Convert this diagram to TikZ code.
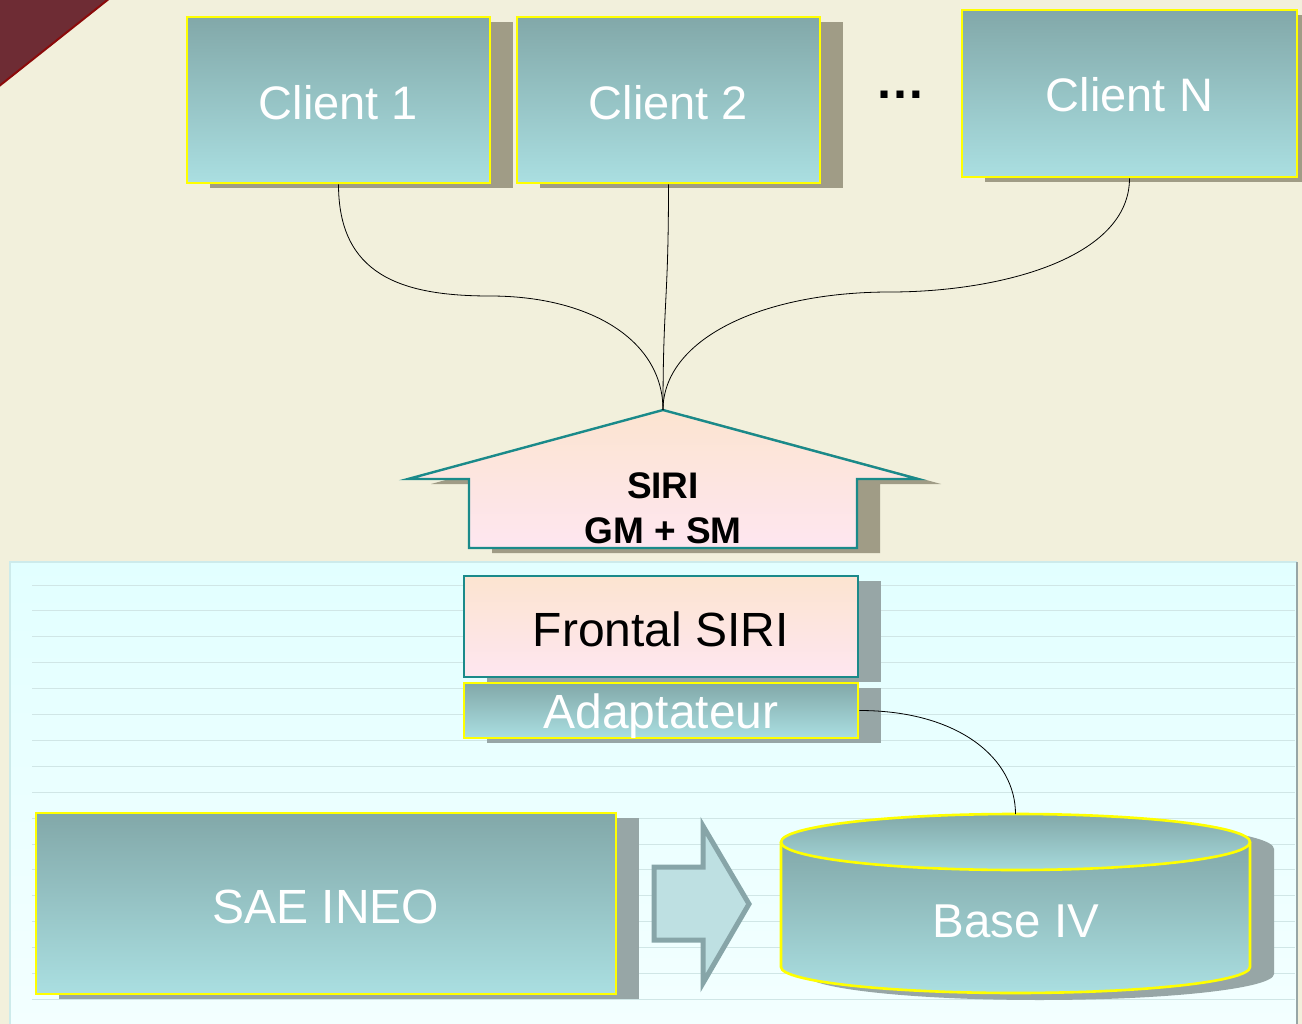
\documentclass[tikz,border=0pt]{standalone}
\usepackage{fontspec}
\setmainfont{Liberation Sans}
\usetikzlibrary{shadows}
\definecolor{cream}{HTML}{F2F0DC}
\definecolor{redfill}{HTML}{6E2C34}
\definecolor{rededge}{HTML}{8B0A0A}
\definecolor{paneltop}{HTML}{E2FFFF}
\definecolor{panelbot}{HTML}{F3FFFF}
\definecolor{panelline}{HTML}{D0E6E6}
\definecolor{paneledge}{HTML}{CDEBEB}
\definecolor{tealtop}{HTML}{82A8A9}
\definecolor{tealbot}{HTML}{AADFE1}
\definecolor{boxyellow}{HTML}{FFFF00}
\definecolor{tealedge}{HTML}{1A8A8A}
\definecolor{peach}{HTML}{FCE4D0}
\definecolor{pinkc}{HTML}{FEE6F0}
\definecolor{shcream}{HTML}{A09C86}
\definecolor{shcyan}{HTML}{97A6A6}
\definecolor{arrowfill}{HTML}{BEE0E2}
\definecolor{arrowedge}{HTML}{87A5A8}
\begin{document}
\begin{tikzpicture}[x=1pt,y=-1pt,
  tealbox/.style={draw=boxyellow, line width=2.6pt, top color=tealtop, bottom color=tealbot,
    text=white, inner sep=0pt, text depth=0pt, font=\fontsize{47}{50}\selectfont},
  pinkbox/.style={draw=tealedge, line width=2.4pt, top color=peach, bottom color=pinkc,
    text=black, inner sep=0pt, text depth=0pt, font=\fontsize{48}{50}\selectfont},
  shc/.style={general shadow={fill=shcream, shadow xshift=23pt, shadow yshift=-5pt}},
  shy/.style={general shadow={fill=shcyan, shadow xshift=23pt, shadow yshift=-5pt}},
  wire/.style={draw=black, line width=0.8pt},
  siritext/.style={font=\bfseries\fontsize{37}{43}\selectfont, anchor=base, inner sep=0pt},
  whitetext/.style={font=\fontsize{47.5}{50}\selectfont, text=white, anchor=base, inner sep=0pt}
]
\useasboundingbox (0,0) rectangle (1302,1024);
\fill[cream] (0,0) rectangle (1302,1024);
\fill[redfill, draw=rededge, line width=2pt] (-2,-2) -- (110,-2) -- (-2,87) -- cycle;

% lower panel
\fill[top color=paneltop, bottom color=panelbot] (10,562) rectangle (1297,1026);
\draw[paneledge, line width=1.2pt] (10,1026) -- (10,562) -- (1297,562);
\draw[shcyan, line width=2pt] (1297,562) -- (1297,1026);
\foreach \k in {0,...,16}
  \draw[panelline, line width=1pt] (32,{585+25.9*\k}) -- (1295,{585+25.9*\k});

% clients
\node[tealbox, shc, minimum width=303, minimum height=166, text height=40pt] (c1) at (338.5,100) {Client 1};
\node[tealbox, shc, minimum width=303, minimum height=166, text height=40pt] (c2) at (668.5,100) {Client 2};
\node[tealbox, shc, minimum width=335, minimum height=167, text height=37pt] (cn) at (1129.5,93.5) {Client N};
\node[font=\bfseries\fontsize{50}{55}\selectfont, anchor=base, inner sep=0pt] (dots) at (900,99) {…};

% SIRI arrow
\coordinate (tip) at (663,410);
\path[shc, draw=tealedge, line width=2.4pt, top color=peach, bottom color=pinkc]
  (tip) -- (918,479) -- (857,479) -- (857,548) -- (469,548) -- (469,479) -- (408,479) -- cycle;
\node[siritext] (siri1) at (663,498) {SIRI};
\node[siritext] (siri2) at (663,543) {GM + SM};

% connectors from clients
\coordinate (m1) at (490,296);
\coordinate (m3) at (890,292);
\draw[wire] (c1.south) .. controls +(0,90) and +(-90,0) .. (m1) .. controls +(100,0) and +(0,-70) .. (tip);
\draw[wire] (c2.south) .. controls +(0,120) and +(0,-110) .. (tip);
\draw[wire] (cn.south) .. controls +(0,80) and +(110,0) .. (m3) .. controls +(-130,0) and +(0,-70) .. (tip);

% frontal + adaptateur
\node[pinkbox, shy, minimum width=394, minimum height=101, text height=39pt] (front) at (661,626.5) {Frontal SIRI};
\node[tealbox, shy, minimum width=394, minimum height=55, text height=35pt, font=\fontsize{48}{50}\selectfont] (adapt) at (661,710.5) {Adaptateur};

% SAE INEO
\node[tealbox, shy, minimum width=580, minimum height=181, text height=39pt, font=\fontsize{48}{50}\selectfont] (sae) at (326,903.5) {SAE INEO};

% block arrow
\draw[line width=5pt, draw=arrowedge, fill=arrowfill, line join=miter]
  (654,867) -- (703,867) -- (703,826) -- (749,904) -- (703,983) -- (703,940) -- (654,940) -- cycle;

% Base IV cylinder
\fill[shcyan] (805,849) -- (805,974) arc[start angle=180, end angle=360, x radius=234.5pt, y radius=26pt]
  -- (1274,849) arc[start angle=0, end angle=180, x radius=234.5pt, y radius=28pt] -- cycle;
\path[draw=boxyellow, line width=2.6pt, top color=tealtop, bottom color=tealbot]
  (781,842) -- (781,967) arc[start angle=180, end angle=360, x radius=234.5pt, y radius=26pt] -- (1250,842);
\path[draw=boxyellow, line width=2.6pt, top color=tealtop, bottom color=tealbot!90!tealtop]
  (1015.5,842) ellipse[x radius=234.5pt, y radius=28pt];
\coordinate (basetop) at (1015.5,814);
\node[whitetext] (base) at (1016,937) {Base IV};

\draw[wire] (adapt.east) .. controls +(100,0) and +(0,-55) .. (basetop);
\end{tikzpicture}
\end{document}
